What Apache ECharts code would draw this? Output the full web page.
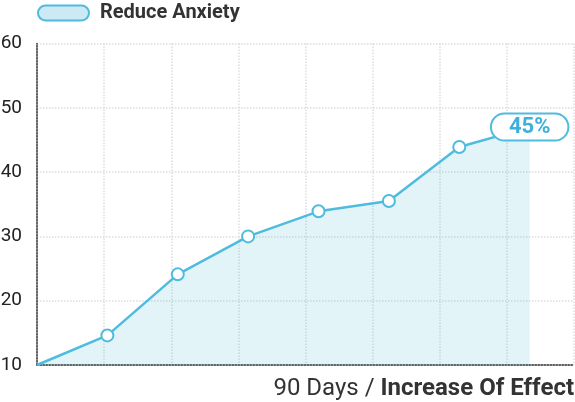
<!DOCTYPE html>
<html>
<head>
<meta charset="utf-8">
<script src="https://cdn.jsdelivr.net/npm/echarts@6/dist/echarts.min.js"></script>
<style>
  html, body { margin: 0; padding: 0; background: #fff; }
  #chart { width: 575px; height: 402px; }
</style>
</head>
<body>
<div id="chart"></div>
<script>
// 数据：8 个阶段的效果值
const steps = [0, 1, 2, 3, 4, 5, 6, 7]
const anxietyValues = [10, 14.6, 24.1, 30, 33.9, 35.5, 43.9, 47]
const yTicks = { min: 10, max: 60, interval: 10 }
const endLabel = '45%'
const seriesName = 'Reduce Anxiety'

const lineColor = '#4fbbdf'
const chart = echarts.init(document.getElementById('chart'))

// 第一个点不画圆圈，最后一个点带上圆角标签
const seriesData = steps.map((s, i) => {
  if (i === 0) return { value: [s, anxietyValues[i]], symbol: 'none' }
  if (i !== steps.length - 1) return [s, anxietyValues[i]]
  return {
    value: [s, anxietyValues[i]],
    label: {
      show: true,
      position: 'inside',
      formatter: endLabel,
      color: '#3fb0dc',
      fontSize: 22,
      fontWeight: 'bold',
      backgroundColor: '#fff',
      borderColor: lineColor,
      borderWidth: 2,
      borderRadius: 14,
      padding: [2, 17, 1, 17]
    }
  }
})

const option = {
  animation: false,
  textStyle: { fontFamily: 'Roboto' },
  title: {
    // x 轴名称放在右下角
    text: '{a|90 Days / }{b|Increase Of Effect}',
    right: 1,
    bottom: 1,
    padding: 0,
    textStyle: {
      rich: {
        a: { fontSize: 24, color: '#333', fontWeight: 'normal', fontFamily: 'Roboto' },
        b: { fontSize: 24, color: '#333', fontWeight: 'bold', fontFamily: 'Roboto' }
      }
    }
  },
  legend: {
    left: 37,
    top: 3,
    padding: 0,
    itemWidth: 51,
    itemHeight: 15,
    icon: 'path://M7.5,0 H43.5 A7.5,7.5 0 0 1 43.5,15 H7.5 A7.5,7.5 0 0 1 7.5,0 Z',
    itemStyle: { color: '#cde9f4', borderColor: lineColor, borderWidth: 2 },
    textStyle: { fontSize: 20, fontWeight: 'bold', color: '#333', padding: [0, 0, 0, 6] },
    data: [seriesName]
  },
  grid: { left: 37, right: 1, top: 43.5, bottom: 37, outerBoundsMode: 'none', containLabel: false },
  xAxis: [
    {
      // 数据用的轴，不显示
      type: 'value',
      min: 0,
      max: 7.63,
      show: false
    },
    {
      // 网格线用的轴
      type: 'value',
      min: 0,
      max: 8,
      interval: 1,
      position: 'bottom',
      axisLabel: { show: false },
      axisTick: { show: false },
      axisLine: { show: true, lineStyle: { color: '#333', type: 'dotted', width: 1.5 } },
      splitLine: { show: true, lineStyle: { color: '#ddd', type: 'dotted', width: 1.5 } }
    }
  ],
  yAxis: {
    type: 'value',
    min: yTicks.min,
    max: yTicks.max,
    interval: yTicks.interval,
    axisLine: { show: true, lineStyle: { color: '#333', type: 'dotted', width: 1.5 } },
    axisTick: { show: false },
    axisLabel: { color: '#222', fontSize: 19, margin: 15 },
    splitLine: { show: true, lineStyle: { color: '#ddd', type: 'dotted', width: 1.5 } }
  },
  series: [{
    name: seriesName,
    type: 'line',
    xAxisIndex: 0,
    data: seriesData,
    lineStyle: { color: lineColor, width: 2.5 },
    itemStyle: { color: lineColor, borderWidth: 2 },
    symbol: 'emptyCircle',
    symbolSize: 12,
    showSymbol: true,
    areaStyle: { color: 'rgba(70,180,212,0.21)' },
    z: 1
  }]
}

chart.setOption(option)
</script>
</body>
</html>
